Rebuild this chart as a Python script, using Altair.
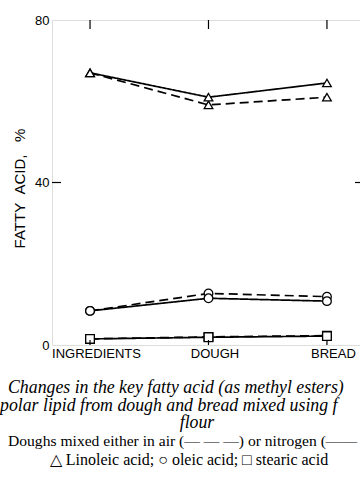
import altair as alt
import pandas as pd

stages = ["INGREDIENTS", "DOUGH", "BREAD"]
linoleic_air = [67.0, 59.1, 61.0]
linoleic_n2 = [67.0, 61.0, 64.5]
oleic_air = [8.4, 12.7, 11.9]
oleic_n2 = [8.4, 11.5, 10.8]
stearic_air = [1.5, 2.0, 2.3]
stearic_n2 = [1.5, 1.9, 2.2]
y_ticks = [0, 40, 80]
inner_ticks = [40]

rows = []
for acid, air, n2 in [("linoleic", linoleic_air, linoleic_n2),
                      ("oleic", oleic_air, oleic_n2),
                      ("stearic", stearic_air, stearic_n2)]:
    for s, v in zip(stages, air):
        rows.append({"stage": s, "acid": acid, "gas": "air", "value": v})
    for s, v in zip(stages, n2):
        rows.append({"stage": s, "acid": acid, "gas": "nitrogen", "value": v})
df = pd.DataFrame(rows)

W, H = 308, 325
xscale = alt.Scale(domain=stages, type="point", padding=0.3, align=0.535)
yscale = alt.Scale(domain=[0, 80], nice=False)

x_enc = alt.X("stage:N", scale=xscale, sort=stages,
              axis=alt.Axis(title=None, labelAngle=0, ticks=False, domain=False,
                            labelFont="Liberation Sans", labelFontSize=13,
                            labelColor="black", labelPadding=2, labelOffset=6))
y_enc = alt.Y("value:Q", scale=yscale,
              axis=alt.Axis(values=y_ticks, ticks=False, grid=False, domain=False,
                            labelFont="Liberation Sans", labelFontSize=13,
                            labelColor="black", labelPadding=3,
                            title="FATTY\u00a0\u00a0ACID,\u00a0\u00a0\u00a0%",
                            titleFont="Liberation Sans", titleFontSize=15,
                            titleFontWeight="normal", titleColor="black",
                            titleX=-33, titleY=168, titleAngle=270,
                            titleAlign="center", titleBaseline="middle"))

lines = alt.Chart(df).mark_line(color="black", strokeWidth=1.7).encode(
    x=x_enc, y=y_enc,
    detail="acid:N",
    strokeDash=alt.StrokeDash("gas:N", scale=alt.Scale(domain=["air", "nitrogen"],
                                                         range=[[9, 5], [1, 0]]),
                              legend=None),
)

points = alt.Chart(df).mark_point(filled=True, fill="white", stroke="black",
                                  strokeWidth=1.3, size=75, opacity=1).encode(
    x=alt.X("stage:N", scale=xscale, sort=stages),
    y=alt.Y("value:Q", scale=yscale),
    shape=alt.Shape("acid:N", scale=alt.Scale(domain=["linoleic", "oleic", "stearic"],
                                              range=["triangle-up", "circle", "square"]),
                    legend=None),
)

stage_df = pd.DataFrame({"stage": stages})
top_ticks = alt.Chart(stage_df).mark_rule(color="black", strokeWidth=1.2).encode(
    x=alt.X("stage:N", scale=xscale, sort=stages),
    y=alt.value(0), y2=alt.value(9))
bottom_ticks = alt.Chart(stage_df).mark_rule(color="black", strokeWidth=1.2).encode(
    x=alt.X("stage:N", scale=xscale, sort=stages),
    y=alt.value(H), y2=alt.value(H - 5))

yt_df = pd.DataFrame({"v": inner_ticks})
left_ticks = alt.Chart(yt_df).mark_rule(color="black", strokeWidth=1.2).encode(
    y=alt.Y("v:Q", scale=yscale), x=alt.value(0), x2=alt.value(9))
right_ticks = alt.Chart(yt_df).mark_rule(color="black", strokeWidth=1.2).encode(
    y=alt.Y("v:Q", scale=yscale), x=alt.value(W - 5), x2=alt.value(W))

captions = [
    ("Changes in the key fatty acid (as methyl esters)", 8, 393, "italic", 17.8, "left"),
    ("polar lipid from dough and bread mixed using f", 0, 410.5, "italic", 17.8, "left"),
    ("flour", 197, 428, "italic", 17.8, "center"),
    ("Doughs mixed either in air (\u2014 \u2014 \u2014) or nitrogen (\u2014\u2014", 8, 446, "normal", 15.6, "left"),
    ("\u25b3 Linoleic acid; \u25cb oleic acid; \u25a1 stearic acid", 189, 465, "normal", 16, "center"),
]
cap_layers = []
for txt, cx, cy, style, fs, al in captions:
    cap_layers.append(
        alt.Chart(pd.DataFrame({"t": [txt]})).mark_text(
            font="Liberation Serif", fontStyle=style, fontSize=fs, align=al,
            baseline="alphabetic", color="black"
        ).encode(text="t:N", x=alt.value(cx - 52), y=alt.value(cy - 20))
    )

chart = alt.layer(lines, points, top_ticks, bottom_ticks, left_ticks, right_ticks,
                  *cap_layers).properties(
    width=W, height=H,
    autosize=alt.AutoSizeParams(type="none"),
    padding={"left": 52, "top": 20, "right": 0, "bottom": 134},
).configure_view(stroke="black", strokeWidth=1.2).configure(background="white")

chart.save("out.html", embed_options={"renderer": "svg", "actions": False})
